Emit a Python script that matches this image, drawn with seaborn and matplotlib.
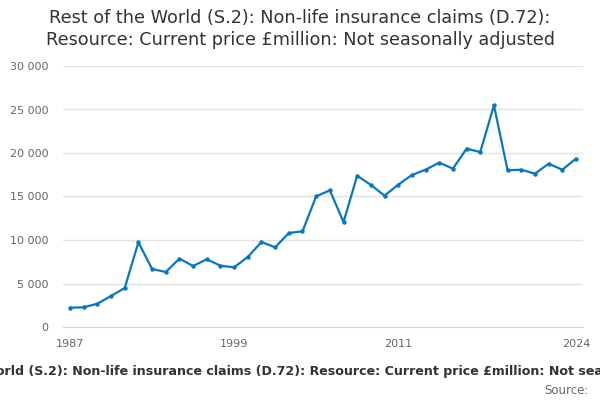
import numpy as np
import pandas as pd
import matplotlib.pyplot as plt
import matplotlib.ticker as mticker
import seaborn as sns

years = list(range(1987, 2025))
claims = [2220, 2260, 2680, 3560, 4480, 9730, 6670, 6320, 7860, 7010,
          7780, 7050, 6860, 8050, 9770, 9160, 10800, 11000, 15020, 15710,
          12070, 17390, 16320, 15100, 16360, 17470, 18080, 18890, 18200, 20500,
          20110, 25480, 18010, 18080, 17620, 18770, 18080, 19350]
tick_years = [1987, 1990, 1993, 1996, 1999, 2002, 2005, 2008, 2011, 2014, 2017, 2020, 2024]
label_years = [1987, 1999, 2011, 2024]
y_ticks = [0, 5000, 10000, 15000, 20000, 25000, 30000]

title = ('Rest of the World (S.2): Non-life insurance claims (D.72):\n'
         'Resource: Current price £million: Not seasonally adjusted')
xlabel = ('Rest of the World (S.2): Non-life insurance claims (D.72): '
          'Resource: Current price £million: Not seasonally adjusted')

df = pd.DataFrame({'year': years, 'claims': claims})

sns.set_style('white')
plt.rcParams['font.family'] = ['DejaVu Sans']

fig = plt.figure(figsize=(6, 4), dpi=100)
ax = fig.add_axes([63/600, 1-327/400, 520/600, 261/400])

sns.lineplot(data=df, x='year', y='claims', ax=ax, color='#0a77bd', linewidth=1.6,
             marker='o', markersize=3.2, markeredgewidth=0)

ax.set_xlim(1987 - 7/13.67, 2024 + 7/13.67)
ax.set_ylim(0, 30000)
ax.set_yticks(y_ticks)
ax.yaxis.set_major_formatter(mticker.FuncFormatter(lambda v, p: f'{int(v):,}'.replace(',', ' ')))
ax.set_xticks(tick_years)
ax.set_xticklabels([str(y) if y in label_years else '' for y in tick_years])
ax.grid(axis='y', color='#e2e2e2', linewidth=1)
ax.set_axisbelow(True)
for s in ['top', 'right', 'left']:
    ax.spines[s].set_visible(False)
ax.spines['bottom'].set_color('#ccd6eb')
ax.tick_params(axis='x', length=7, color='#ccd6eb', labelsize=8, labelcolor='#666666', pad=1.5)
ax.tick_params(axis='y', length=0, labelsize=8, labelcolor='#666666', pad=10.5)
ax.set_ylabel('')
ax.set_xlabel('')

fig.suptitle(title, x=0.5, y=1-9/400, fontsize=12.7, color='#333333', va='top', linespacing=1.3)
fig.text(310/600, 1-371/400, xlabel, ha='center', va='center', fontsize=9.1, fontweight='bold', color='#333333')
fig.text(589/600, 1-390/400, 'Source:', ha='right', va='center', fontsize=8.5, color='#666666')

fig.savefig('out.png', dpi=100)
